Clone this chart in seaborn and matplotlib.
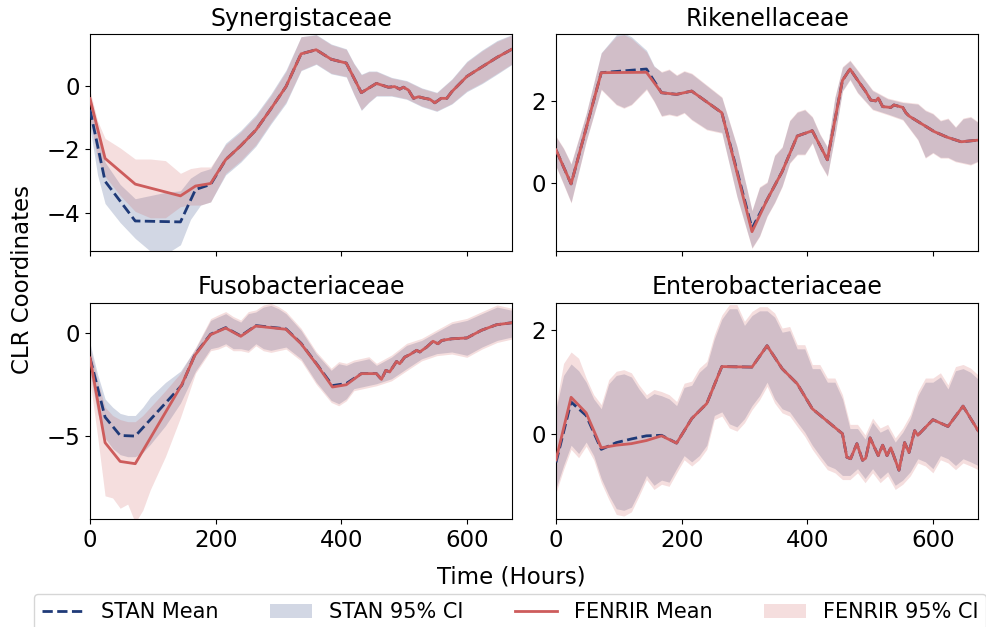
import numpy as np
import matplotlib
matplotlib.use("Agg")
import matplotlib.pyplot as plt
from matplotlib.lines import Line2D
from matplotlib.patches import Patch
import seaborn as sns

# ---------------- Synergistaceae ----------------
syn_t = [0, 24, 72, 144, 168, 192, 216, 240, 264, 288, 312, 336, 360, 384, 408, 432, 456, 464, 475, 485,
         493, 499, 507, 515, 523, 533, 541, 549, 559, 568, 576, 600, 624, 648, 672]
syn_fenrir = [-0.40, -2.28, -3.09, -3.46, -3.15, -3.07, -2.32, -1.88, -1.39, -0.72,
              -0.02, 1.01, 1.14, 0.84, 0.72, -0.21, 0.08, 0.03, -0.04, -0.02,
              -0.10, -0.04, -0.13, -0.39, -0.34, -0.39, -0.42, -0.53, -0.39, -0.39,
              -0.18, 0.30, 0.60, 0.90, 1.16]
syn_stan = [-0.75, -3.00, -4.25, -4.28, -3.26, -3.10, -2.32, -1.88, -1.39, -0.72,
            -0.02, 1.01, 1.14, 0.84, 0.72, -0.21, 0.08, 0.03, -0.04, -0.02,
            -0.10, -0.04, -0.13, -0.39, -0.34, -0.39, -0.42, -0.53, -0.39, -0.39,
            -0.18, 0.30, 0.60, 0.90, 1.16]
syn_ci_t = [0, 12, 24, 48, 72, 96, 120, 144, 160, 176, 192, 204, 216, 240, 264, 288, 312, 336, 360, 384,
            408, 420, 432, 444, 456, 480, 504, 528, 552, 576, 600, 624, 648, 672]
syn_fenrir_hi = [-0.15, -1.10, -1.65, -1.95, -2.30, -2.30, -2.35, -2.75, -2.60, -2.55,
                 -2.55, -2.20, -1.85, -1.45, -0.95, -0.30, 0.45, 1.55, 1.60, 1.30,
                 1.15, 0.70, 0.35, 0.45, 0.45, 0.25, 0.15, -0.08, -0.22, 0.20,
                 0.75, 1.10, 1.40, 1.60]
syn_fenrir_lo = [-1.00, -2.30, -2.85, -3.45, -3.95, -4.15, -4.15, -3.80, -3.75, -3.75,
                 -3.65, -3.20, -2.75, -2.35, -1.85, -1.15, -0.50, 0.50, 0.70, 0.40,
                 0.30, -0.25, -0.75, -0.50, -0.30, -0.30, -0.40, -0.63, -0.78, -0.55,
                 -0.15, 0.10, 0.40, 0.70]
syn_stan_hi = [-0.30, -1.30, -2.40, -3.10, -3.55, -3.45, -3.35, -3.30, -2.90, -2.70,
               -2.60, -2.20, -1.80, -1.40, -0.90, -0.25, 0.50, 1.55, 1.62, 1.32,
               1.17, 0.72, 0.37, 0.47, 0.47, 0.27, 0.17, -0.06, -0.20, 0.22,
               0.78, 1.13, 1.43, 1.62]
syn_stan_lo = [-1.30, -2.80, -3.70, -4.30, -4.80, -5.20, -5.30, -5.00, -4.20, -3.75,
               -3.65, -3.22, -2.80, -2.40, -1.90, -1.20, -0.55, 0.48, 0.68, 0.38,
               0.28, -0.27, -0.77, -0.52, -0.32, -0.32, -0.42, -0.65, -0.80, -0.57,
               -0.18, 0.07, 0.37, 0.68]

# ---------------- Rikenellaceae ----------------
rik_t = [0, 24, 72, 144, 168, 192, 216, 264, 312, 336, 360, 384, 408, 432, 456, 468, 480, 493, 501, 509,
         513, 520, 533, 538, 552, 557, 562, 581, 602, 623, 645, 672]
rik_fenrir = [0.80, -0.03, 2.69, 2.70, 2.20, 2.16, 2.24, 1.71, -1.20, -0.42,
              0.27, 1.14, 1.27, 0.56, 2.50, 2.78, 2.51, 2.23, 2.02, 2.00,
              2.07, 1.86, 1.84, 1.90, 1.84, 1.71, 1.63, 1.45, 1.25, 1.11,
              1.00, 1.04]
rik_stan = [0.80, -0.03, 2.69, 2.78, 2.20, 2.16, 2.24, 1.71, -1.12, -0.42,
            0.27, 1.14, 1.27, 0.56, 2.50, 2.78, 2.51, 2.23, 2.02, 2.00,
            2.07, 1.86, 1.84, 1.90, 1.84, 1.71, 1.63, 1.45, 1.25, 1.11,
            1.00, 1.04]
rik_ci_t = [0, 12, 24, 48, 72, 96, 108, 120, 144, 156, 168, 180, 192, 204, 216, 240, 264, 288, 312, 324,
            336, 348, 360, 372, 384, 396, 408, 420, 432, 444, 456, 468, 480, 504, 528, 552, 576, 588, 600, 612,
            624, 636, 648, 660, 672]
rik_fenrir_hi = [1.14, 0.85, 0.47, 1.70, 3.17, 3.58, 3.62, 3.53, 3.20, 2.84,
                 2.72, 2.78, 2.64, 2.74, 2.68, 2.39, 2.10, 0.90, -0.67, -0.10,
                 0.02, 0.68, 0.88, 1.53, 1.74, 1.80, 1.62, 1.20, 0.88, 2.10,
                 2.84, 3.00, 2.76, 2.27, 2.07, 1.98, 1.94, 1.78, 1.70, 1.53,
                 1.58, 1.37, 1.58, 1.62, 1.49]
rik_fenrir_lo = [0.39, -0.05, -0.50, 1.00, 2.27, 1.90, 1.82, 1.90, 2.27, 1.98,
                 1.62, 1.66, 1.62, 1.70, 1.53, 1.29, 1.21, -0.35, -1.61, -1.32,
                 -0.83, -0.50, -0.10, 0.47, 0.68, 0.68, 0.96, 0.47, 0.15, 1.13,
                 2.23, 2.51, 2.19, 1.78, 1.66, 1.53, 1.04, 0.60, 0.72, 0.60,
                 0.60, 0.51, 0.47, 0.43, 0.51]
rik_stan_hi = [1.12, 0.83, 0.45, 1.68, 3.18, 3.62, 3.66, 3.57, 3.24, 2.86,
               2.70, 2.76, 2.62, 2.72, 2.66, 2.37, 2.08, 0.88, -0.69, -0.12,
               0.00, 0.66, 0.86, 1.51, 1.72, 1.78, 1.60, 1.18, 0.86, 2.08,
               2.82, 2.98, 2.74, 2.25, 2.05, 1.96, 1.92, 1.76, 1.68, 1.51,
               1.56, 1.35, 1.56, 1.60, 1.47]
rik_stan_lo = [0.41, -0.03, -0.48, 1.02, 2.29, 1.92, 1.84, 1.92, 2.30, 2.00,
               1.64, 1.68, 1.64, 1.72, 1.55, 1.31, 1.23, -0.33, -1.59, -1.30,
               -0.81, -0.48, -0.08, 0.49, 0.70, 0.70, 0.98, 0.49, 0.17, 1.15,
               2.25, 2.53, 2.21, 1.80, 1.68, 1.55, 1.06, 0.62, 0.74, 0.62,
               0.62, 0.53, 0.49, 0.45, 0.53]

# ---------------- Fusobacteriaceae ----------------
fus_t = [0, 24, 48, 72, 146, 167, 192, 216, 240, 264, 312, 336, 362, 386, 408, 432, 456, 464, 471, 477,
         488, 493, 501, 509, 520, 525, 536, 546, 554, 560, 576, 600, 623, 647, 672]
fus_fenrir = [-1.21, -5.32, -6.23, -6.34, -2.51, -1.08, -0.08, 0.24, -0.16, 0.34,
              0.18, -0.52, -1.57, -2.62, -2.51, -1.97, -1.97, -2.25, -1.81, -1.89,
              -1.38, -1.49, -1.17, -1.05, -0.84, -0.92, -0.68, -0.40, -0.52, -0.36,
              -0.28, -0.24, 0.13, 0.40, 0.50]
fus_stan = [-1.21, -4.08, -4.97, -5.00, -2.54, -1.05, -0.06, 0.26, -0.14, 0.36,
            0.20, -0.50, -1.55, -2.55, -2.45, -1.97, -1.97, -2.25, -1.81, -1.89,
            -1.38, -1.49, -1.17, -1.05, -0.84, -0.92, -0.68, -0.40, -0.52, -0.36,
            -0.28, -0.24, 0.13, 0.40, 0.50]
fus_ci_t = [0, 12, 24, 36, 48, 60, 72, 84, 96, 120, 144, 168, 192, 204, 216, 228, 240, 252, 264, 276,
            288, 300, 312, 336, 360, 384, 396, 408, 420, 432, 444, 456, 480, 504, 528, 552, 576, 600, 624, 648,
            672]
fus_fenrir_hi = [-0.70, -2.30, -3.60, -4.00, -4.20, -4.30, -4.30, -4.00, -3.60, -2.80,
                 -1.95, -0.70, 0.70, 0.88, 1.04, 0.80, 0.63, 1.04, 1.12, 1.36,
                 1.44, 1.28, 1.04, 0.23, -0.90, -1.71, -1.39, -1.47, -1.31, -1.23,
                 -1.15, -1.47, -1.07, -0.50, -0.26, 0.15, 0.55, 0.71, 1.04, 1.36,
                 1.20]
fus_fenrir_lo = [-2.30, -5.00, -7.90, -8.00, -8.50, -8.30, -9.20, -8.60, -7.60, -6.00,
                 -4.10, -1.95, -0.86, -0.78, -0.62, -0.86, -0.86, -0.94, -0.62, -0.86,
                 -0.94, -0.86, -0.78, -1.35, -2.48, -3.37, -3.53, -3.29, -2.80, -2.72,
                 -2.64, -2.56, -2.32, -1.83, -1.35, -1.10, -1.02, -1.18, -0.78, -0.46,
                 -0.29]
fus_stan_hi = [-0.50, -2.00, -3.20, -3.60, -3.90, -4.00, -4.00, -3.60, -3.10, -2.40,
               -1.85, -0.75, 0.61, 0.78, 0.94, 0.70, 0.53, 0.94, 1.02, 1.26,
               1.34, 1.18, 0.94, 0.13, -1.00, -1.81, -1.49, -1.57, -1.41, -1.33,
               -1.25, -1.57, -1.17, -0.60, -0.36, 0.05, 0.45, 0.61, 0.94, 1.26,
               1.10]
fus_stan_lo = [-1.90, -3.90, -5.10, -5.60, -5.90, -6.00, -6.00, -5.80, -5.40, -4.50,
               -3.40, -1.85, -0.76, -0.68, -0.52, -0.76, -0.76, -0.84, -0.52, -0.76,
               -0.84, -0.76, -0.68, -1.25, -2.38, -3.27, -3.43, -3.19, -2.70, -2.62,
               -2.54, -2.46, -2.22, -1.73, -1.25, -1.00, -0.92, -1.08, -0.68, -0.36,
               -0.19]

# ---------------- Enterobacteriaceae ----------------
ent_t = [0, 24, 48, 72, 96, 120, 144, 168, 192, 216, 240, 264, 312, 336, 360, 384, 408, 456, 463, 469,
         479, 488, 493, 500, 513, 520, 527, 533, 546, 555, 562, 571, 576, 600, 624, 648, 672]
ent_fenrir = [-0.50, 0.70, 0.40, -0.27, -0.22, -0.19, -0.13, -0.04, -0.18, 0.29,
              0.58, 1.29, 1.28, 1.69, 1.25, 0.96, 0.48, 0.00, -0.45, -0.48,
              -0.19, -0.51, -0.47, -0.08, -0.42, -0.22, -0.42, -0.27, -0.70, -0.17,
              -0.36, 0.06, -0.03, 0.27, 0.14, 0.53, 0.06]
ent_stan = [-0.55, 0.61, 0.35, -0.30, -0.17, -0.10, -0.04, -0.03, -0.18, 0.29,
            0.58, 1.29, 1.28, 1.69, 1.25, 0.96, 0.48, 0.00, -0.45, -0.48,
            -0.19, -0.51, -0.47, -0.08, -0.42, -0.22, -0.42, -0.27, -0.70, -0.17,
            -0.36, 0.06, -0.03, 0.27, 0.14, 0.53, 0.06]
ent_ci_t = [0, 12, 24, 36, 48, 60, 72, 84, 96, 108, 120, 132, 144, 156, 168, 180, 192, 204, 216, 228,
            240, 252, 264, 276, 288, 300, 312, 324, 336, 348, 360, 372, 384, 396, 408, 420, 432, 444, 456, 468,
            480, 492, 504, 516, 528, 540, 552, 564, 576, 588, 600, 612, 624, 636, 648, 660, 672]
ent_fenrir_hi = [0.56, 1.35, 1.57, 1.45, 1.07, 0.75, 0.56, 1.04, 1.20, 1.23,
                 1.17, 0.94, 0.75, 0.85, 0.81, 0.75, 0.62, 0.97, 1.01, 1.26,
                 1.39, 1.90, 2.28, 2.48, 2.48, 2.16, 2.35, 2.44, 2.44, 2.32,
                 2.03, 2.06, 1.71, 1.71, 1.33, 1.33, 1.07, 1.07, 0.75, 0.18,
                 0.18, -0.02, 0.30, 0.11, 0.18, -0.08, 0.11, 0.37, 0.81, 1.07,
                 1.07, 1.17, 0.94, 1.29, 1.33, 1.26, 1.13]
ent_fenrir_lo = [-1.13, -0.69, -0.30, -0.46, -0.24, -0.50, -0.94, -1.26, -1.55, -1.58,
                 -1.50, -1.20, -0.88, -1.07, -0.97, -1.01, -0.75, -0.50, -0.62, -0.50,
                 -0.30, 0.27, 0.34, 0.11, 0.05, 0.21, 0.46, 0.65, 0.91, 0.59,
                 0.40, 0.34, 0.14, -0.05, -0.30, -0.50, -0.69, -0.75, -0.88, -0.88,
                 -0.75, -0.94, -0.75, -0.94, -0.81, -1.07, -0.97, -0.81, -0.56, -0.62,
                 -0.75, -0.50, -0.56, -0.69, -0.56, -0.62, -0.69]
ent_stan_hi = [0.48, 1.12, 1.34, 1.21, 0.99, 0.67, 0.48, 0.96, 1.12, 1.15,
               1.09, 0.86, 0.67, 0.77, 0.73, 0.67, 0.54, 0.89, 0.93, 1.18,
               1.31, 1.82, 2.20, 2.40, 2.40, 2.08, 2.27, 2.36, 2.36, 2.24,
               1.95, 1.98, 1.63, 1.63, 1.25, 1.25, 0.99, 0.99, 0.67, 0.10,
               0.10, -0.10, 0.22, 0.03, 0.10, -0.16, 0.03, 0.29, 0.73, 0.99,
               0.99, 1.09, 0.86, 1.21, 1.25, 1.18, 1.05]
ent_stan_lo = [-1.05, -0.61, -0.22, -0.38, -0.16, -0.42, -0.86, -1.18, -1.44, -1.47,
               -1.41, -1.12, -0.80, -0.99, -0.89, -0.93, -0.67, -0.42, -0.54, -0.42,
               -0.22, 0.35, 0.42, 0.19, 0.13, 0.29, 0.54, 0.73, 0.99, 0.67,
               0.48, 0.42, 0.22, 0.03, -0.22, -0.42, -0.61, -0.67, -0.80, -0.80,
               -0.67, -0.86, -0.67, -0.86, -0.73, -0.99, -0.89, -0.73, -0.48, -0.54,
               -0.67, -0.42, -0.48, -0.61, -0.48, -0.54, -0.61]

titles = ["Synergistaceae", "Rikenellaceae", "Fusobacteriaceae", "Enterobacteriaceae"]
legend_labels = ["STAN Mean", "STAN 95% CI", "FENRIR Mean", "FENRIR 95% CI"]
x_ticks = [0, 200, 400, 600]

STAN_COLOR = "#1f3a78"
FENRIR_COLOR = "#cd5c5c"
CI_ALPHA = 0.2

panels = [
    dict(t=syn_t, stan=syn_stan, fen=syn_fenrir, ci_t=syn_ci_t,
         s_lo=syn_stan_lo, s_hi=syn_stan_hi, f_lo=syn_fenrir_lo, f_hi=syn_fenrir_hi,
         ylim=(-5.18, 1.64), yticks=[-4, -2, 0]),
    dict(t=rik_t, stan=rik_stan, fen=rik_fenrir, ci_t=rik_ci_t,
         s_lo=rik_stan_lo, s_hi=rik_stan_hi, f_lo=rik_fenrir_lo, f_hi=rik_fenrir_hi,
         ylim=(-1.66, 3.64), yticks=[0, 2]),
    dict(t=fus_t, stan=fus_stan, fen=fus_fenrir, ci_t=fus_ci_t,
         s_lo=fus_stan_lo, s_hi=fus_stan_hi, f_lo=fus_fenrir_lo, f_hi=fus_fenrir_hi,
         ylim=(-9.03, 1.48), yticks=[-5, 0]),
    dict(t=ent_t, stan=ent_stan, fen=ent_fenrir, ci_t=ent_ci_t,
         s_lo=ent_stan_lo, s_hi=ent_stan_hi, f_lo=ent_fenrir_lo, f_hi=ent_fenrir_hi,
         ylim=(-1.64, 2.52), yticks=[0, 2]),
]

fig, axes = plt.subplots(2, 2, sharex=True, figsize=(9.87, 6.27), dpi=100)
fig.subplots_adjust(left=0.0912, right=0.991, bottom=0.172, top=0.946,
                    wspace=0.104, hspace=0.24)

for ax, title, p in zip(axes.flat, titles, panels):
    sns.lineplot(x=p["t"], y=p["stan"], ax=ax, color=STAN_COLOR, linestyle="--",
                 linewidth=2, zorder=3)
    ax.fill_between(p["ci_t"], p["s_lo"], p["s_hi"], color=STAN_COLOR,
                    alpha=CI_ALPHA, linewidth=0, zorder=1)
    sns.lineplot(x=p["t"], y=p["fen"], ax=ax, color=FENRIR_COLOR, linestyle="-",
                 linewidth=2, zorder=4)
    ax.fill_between(p["ci_t"], p["f_lo"], p["f_hi"], color=FENRIR_COLOR,
                    alpha=CI_ALPHA, linewidth=0, zorder=2)
    ax.set_title(title, fontsize=17)
    ax.set_xlim(0, 672)
    ax.set_ylim(*p["ylim"])
    ax.set_yticks(p["yticks"])
    ax.set_xticks(x_ticks)
    ax.tick_params(labelsize=16.5)
    ax.set_xlabel("")
    ax.set_ylabel("")

fig.text(0.023, 0.555, "CLR Coordinates", rotation=90, ha="center", va="center",
         fontsize=16.5)
fig.text(0.518, 0.08, "Time (Hours)", ha="center", va="center", fontsize=16.5)

handles = [
    Line2D([0], [0], color=STAN_COLOR, linestyle="--", linewidth=2),
    Patch(facecolor=STAN_COLOR, alpha=CI_ALPHA, linewidth=0),
    Line2D([0], [0], color=FENRIR_COLOR, linestyle="-", linewidth=2),
    Patch(facecolor=FENRIR_COLOR, alpha=CI_ALPHA, linewidth=0),
]
fig.legend(handles, legend_labels, loc="upper center", bbox_to_anchor=(0.517, 0.053),
           borderaxespad=0.0, ncol=4, fontsize=15, columnspacing=2.5, frameon=True)

fig.savefig("out.png", dpi=100)
